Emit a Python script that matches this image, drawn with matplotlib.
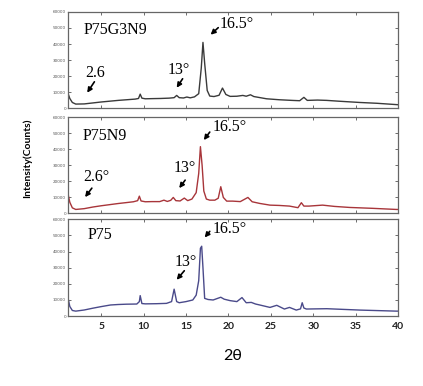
import numpy as np
import matplotlib
matplotlib.use('Agg')
import matplotlib.pyplot as plt

# 2theta / intensity readings for each sample (top to bottom)
tt_g3n9 = [1.1, 1.3, 1.6, 2.0, 3.0, 4.0, 5.0, 6.0, 7.0, 8.0, 9.0, 9.4, 9.6, 9.8, 10.2, 11.0,
           12.0, 13.0, 13.6, 13.9, 14.2, 14.7, 15.1, 15.5, 16.0, 16.5, 16.8, 17.0, 17.2, 17.5,
           17.8, 18.3, 18.9, 19.3, 19.7, 20.2, 21.0, 21.7, 22.1, 22.6, 23.0, 24.5, 26.0, 27.5,
           28.4, 28.9, 29.3, 30.5, 31.6, 33.0, 35.5, 37.5, 40.0]
int_g3n9 = [9000, 6000, 3500, 2500, 2600, 3200, 3800, 4300, 4800, 5200, 5600, 6000, 8700, 6200,
            5800, 5900, 6000, 6200, 6500, 7900, 6500, 6300, 6900, 6400, 7000, 9000, 25000, 41000,
            28000, 11000, 7500, 7200, 8000, 12500, 8500, 7300, 7400, 7900, 7400, 8300, 7200,
            5800, 5200, 4800, 4600, 6700, 4800, 5000, 4800, 4300, 3500, 3000, 2100]

tt_n9 = [1.1, 1.3, 1.6, 2.0, 3.0, 4.0, 5.0, 6.0, 7.0, 8.0, 8.8, 9.3, 9.5, 9.7, 10.2, 11.0, 11.9,
         12.4, 12.8, 13.2, 13.5, 13.8, 14.3, 14.8, 15.2, 15.7, 16.2, 16.5, 16.7, 16.9, 17.1,
         17.4, 17.8, 18.4, 18.8, 19.1, 19.4, 19.8, 20.5, 21.4, 22.3, 22.8, 23.7, 24.9, 26.0,
         27.2, 28.2, 28.6, 28.9, 29.5, 31.1, 32.5, 34.3, 37.0, 39.8, 40.0]
int_n9 = [12000, 7000, 3500, 2500, 3000, 4000, 4800, 5500, 6200, 6800, 7300, 8000, 10800, 7800,
          7300, 7400, 7400, 8300, 7500, 8200, 10000, 8000, 7800, 9600, 8000, 9000, 13000, 25000,
          41700, 30000, 14000, 9000, 8300, 8300, 9500, 16700, 10000, 7700, 7700, 7400, 10000,
          7300, 6250, 5200, 5000, 4600, 3600, 6700, 4600, 4600, 5200, 4400, 3750, 3200, 2500, 2500]

tt_p75 = [1.1, 1.3, 1.6, 2.0, 3.0, 4.0, 5.0, 6.1, 7.0, 8.0, 9.2, 9.5, 9.6, 9.8, 10.2, 11.5, 12.7,
          13.3, 13.6, 13.9, 14.2, 15.0, 15.8, 16.2, 16.5, 16.7, 16.85, 17.0, 17.2, 17.6, 18.2,
          19.1, 19.5, 20.2, 21.0, 21.6, 22.1, 22.7, 23.2, 23.7, 24.9, 25.7, 26.6, 27.2, 28.0,
          28.5, 28.7, 28.9, 29.2, 31.6, 35.5, 39.8, 40.0]
int_p75 = [11000, 6000, 3500, 3100, 3800, 4900, 5900, 6900, 7200, 7400, 7500, 9000, 12700, 7800,
           7600, 7700, 7900, 9000, 16700, 9000, 8300, 9000, 10000, 13000, 22000, 42000, 43300,
           30000, 11000, 10300, 10000, 11700, 10500, 9600, 9000, 11500, 8300, 8500, 7500, 6900,
           5400, 6700, 4400, 5400, 3750, 4500, 8300, 5000, 4400, 4600, 3750, 3100, 3100]

names = ['P75G3N9', 'P75N9', 'P75']
colors = ['#3a3a3a', '#a8353a', '#4a4a8a']
x_ticks = [5, 10, 15, 20, 25, 30, 35, 40]
y_ticks = [0, 10000, 20000, 30000, 40000, 50000, 60000]

# peak labels: (text, text pos, arrow tail, arrow tip)
notes = [
    [('2.6', (3.1, 22000), (4.2, 16400), (3.35, 9600)),
     ('13°', (12.8, 24000), (14.6, 18300), (13.9, 12700)),
     ('16.5°', (19.0, 52700), (18.8, 50200), (17.9, 45800))],
    [('2.6°', (2.9, 22700), (3.9, 15800), (3.1, 10200)),
     ('13°', (13.6, 28300), (14.9, 20800), (14.2, 15800)),
     ('16.5°', (18.1, 53900), (17.8, 50800), (17.1, 45800))],
    [('13°', (13.7, 33700), (14.8, 28100), (13.9, 22500)),
     ('16.5°', (18.1, 53700), (17.8, 52500), (17.2, 48700))],
]
name_pos = [(2.9, 49000), (2.76, 48400), (3.35, 50000)]

data = [(tt_g3n9, int_g3n9), (tt_n9, int_n9), (tt_p75, int_p75)]

fig = plt.figure(figsize=(4.23, 3.86), dpi=100)
bottoms = [0.720, 0.447, 0.181]
heights = [0.249, 0.249, 0.251]
serif = 'Liberation Serif'
sans = ['Lato', 'DejaVu Sans']

for i in range(3):
    ax = fig.add_axes([0.161, bottoms[i], 0.780, heights[i]])
    tt, inten = data[i]
    ax.plot(tt, inten, color=colors[i], lw=1.0)
    ax.set_xlim(1.1, 40)
    ax.set_ylim(0, 60000)
    ax.set_xticks(x_ticks)
    ax.set_yticks(y_ticks)
    ax.set_yticklabels([str(v) for v in y_ticks], fontsize=3, color='#444')
    ax.tick_params(direction='in', length=2.5, width=0.6, top=True, right=True,
                   colors='#555', pad=1.5)
    for s in ax.spines.values():
        s.set_color('#666')
        s.set_linewidth(0.9)
    if i < 2:
        ax.set_xticklabels([])
    else:
        ax.set_xticklabels([str(v) for v in x_ticks], fontsize=7.5, fontweight='bold',
                           color='#222', family=sans)
        ax.tick_params(axis='x', pad=4)
    ax.text(name_pos[i][0], name_pos[i][1], names[i], family=serif, fontsize=11.5,
            ha='left', va='center')
    for txt, tpos, tail, tip in notes[i]:
        ax.text(tpos[0], tpos[1], txt, family=serif, fontsize=11.5, ha='left', va='center')
        ax.annotate('', xy=tip, xytext=tail,
                    arrowprops=dict(arrowstyle='-|>', color='k', lw=1.2, mutation_scale=7,
                                    shrinkA=0, shrinkB=0))

fig.text(0.064, 0.59, 'Intensity(Counts)', rotation=90, ha='center', va='center',
         fontsize=7.5, fontweight='bold', family=sans)
fig.text(0.55, 0.078, '2θ', ha='center', va='center', fontsize=11.5, family=sans)

fig.savefig('out.png', dpi=100)
